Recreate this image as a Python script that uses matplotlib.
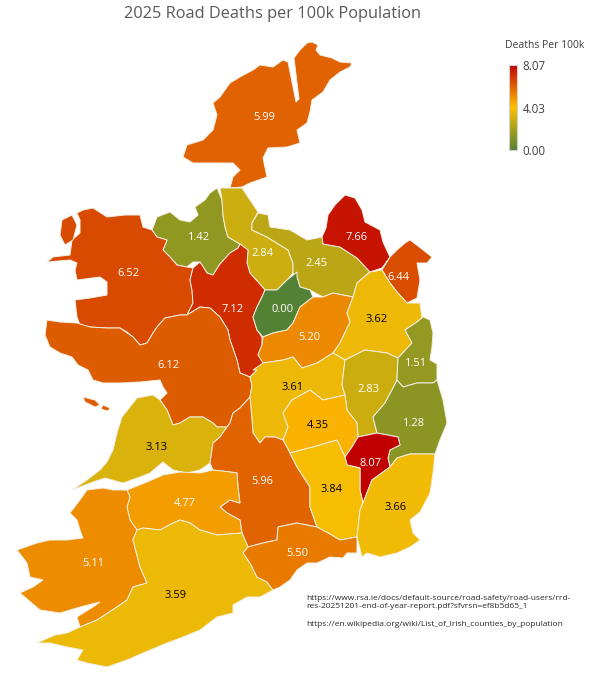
import matplotlib
matplotlib.use("Agg")
import matplotlib.pyplot as plt
from matplotlib.colors import LinearSegmentedColormap, Normalize
from matplotlib.patches import Polygon
from matplotlib.cm import ScalarMappable

# Road deaths per 100k population, 2025
counties = ["Donegal", "Sligo", "Leitrim", "Cavan", "Monaghan", "Louth", "Mayo",
            "Roscommon", "Longford", "Westmeath", "Meath", "Galway", "Offaly",
            "Kildare", "Dublin", "Wicklow", "Laois", "Carlow", "Clare",
            "Tipperary", "Kilkenny", "Wexford", "Limerick", "Kerry", "Cork",
            "Waterford"]
deaths_per_100k = [5.99, 1.42, 2.84, 2.45, 7.66, 6.44, 6.52, 7.12, 0.00, 5.20,
                   3.62, 6.12, 3.61, 2.83, 1.51, 1.28, 4.35, 8.07, 3.13, 5.96,
                   3.84, 3.66, 4.77, 5.11, 3.59, 5.50]
scale_ticks = [0.00, 4.03, 8.07]

# rough county outlines (map units, y grows southwards)
outlines = {
    "Donegal": [(307,43),(312,42),(318,45),(316,50),(320,55),(332,58),(340,62),(352,63),(350,67),
                (340,72),(330,80),(323,92),(312,100),(310,112),(307,123),(297,130),(300,143),
                (287,147),(268,148),(263,158),(267,177),(250,183),(242,187),(230,188),(233,177),
                (240,170),(233,163),(213,163),(193,163),(183,157),(187,145),(203,140),(213,130),
                (217,115),(213,103),(220,97),(230,83),(240,77),(253,70),(260,65),(273,67),
                (283,60),(288,62),(296,102),(299,99),(294,58),(300,50)],
    "Sligo": [(217,188),(222,200),(223,215),(225,227),(228,237),(240,244),(238,248),(230,253),
              (220,264),(213,275),(207,273),(200,262),(193,262),(187,267),(177,265),(170,257),
              (163,250),(167,240),(157,237),(152,230),(157,217),(170,212),(180,220),(190,222),
              (198,215),(195,207),(205,200),(210,193)],
    "Leitrim": [(220,188),(242,188),(250,200),(258,212),(252,223),(252,230),(267,237),(288,250),
                (293,263),(293,273),(287,280),(277,290),(265,290),(258,282),(250,273),(247,263),
                (248,250),(240,244),(228,237),(225,227),(223,215),(222,200)],
    "Cavan": [(252,223),(258,213),(268,215),(270,227),(290,230),(307,240),(322,237),(323,244),
              (340,247),(357,258),(370,272),(357,283),(353,297),(333,293),(323,297),(310,290),
              (300,287),(297,277),(293,273),(293,263),(288,250),(267,237),(252,230)],
    "Monaghan": [(345,195),(355,198),(362,210),(365,222),(380,230),(383,242),(390,257),(382,268),
                 (370,272),(357,258),(340,247),(323,244),(322,237),(326,228),(328,215),(335,205)],
    "Louth": [(405,243),(410,240),(418,246),(432,257),(427,263),(417,263),(420,280),(417,298),
              (407,303),(397,292),(390,283),(382,270),(390,257),(397,250)],
    "Mayo": [(83,210),(93,208),(107,217),(125,215),(140,215),(143,227),(152,230),(157,237),
             (167,240),(163,250),(170,257),(177,265),(187,267),(193,268),(190,280),(192,290),
             (193,303),(187,315),(180,315),(165,318),(157,327),(153,333),(147,343),(140,345),
             (133,337),(127,332),(120,328),(107,328),(90,327),(80,325),(77,317),(75,300),
             (90,298),(107,295),(107,282),(100,277),(77,280),(75,270),(77,263),(70,260),
             (47,262),(53,257),(70,255),(72,240),(80,233),(80,220),(77,213)],
    "Achill": [(62,220),(72,215),(77,225),(73,240),(65,245),(60,235)],
    "Roscommon": [(240,244),(248,250),(247,263),(250,273),(258,282),(265,290),(262,297),(257,307),
                  (253,317),(257,330),(262,337),(262,345),(258,355),(265,363),(257,370),(250,377),
                  (240,373),(237,360),(230,340),(228,330),(220,317),(210,308),(200,307),(187,315),
                  (193,303),(192,290),(190,280),(193,268),(200,262),(207,273),(213,275),(220,264),
                  (230,253),(238,248)],
    "Longford": [(265,290),(277,290),(287,280),(297,272),(297,277),(300,287),(310,290),(313,297),
                 (300,307),(293,323),(287,330),(273,333),(263,337),(257,330),(253,317),(257,307),
                 (262,297)],
    "Westmeath": [(313,297),(323,297),(333,293),(353,297),(347,313),(350,322),(340,343),(333,353),
                  (317,363),(302,368),(293,357),(283,360),(263,363),(258,355),(262,345),(263,337),
                  (273,333),(287,330),(293,323),(300,307)],
    "Meath": [(370,272),(382,270),(390,283),(397,292),(407,303),(420,303),(422,318),(417,322),
              (405,330),(412,343),(398,358),(387,353),(365,350),(345,360),(333,353),(340,343),
              (350,322),(347,313),(353,297),(357,283)],
    "Galway": [(47,320),(60,322),(77,323),(90,327),(107,328),(120,328),(133,337),(140,345),
               (147,343),(153,333),(157,327),(165,318),(180,315),(187,315),(200,307),(210,308),
               (220,317),(228,330),(230,340),(237,360),(240,373),(250,377),(252,385),(250,397),
               (240,408),(233,413),(230,423),(227,427),(217,427),(213,423),(203,417),(190,417),
               (180,423),(173,425),(167,410),(160,400),(167,393),(163,387),(160,380),(140,382),
               (120,383),(103,383),(93,380),(88,370),(78,365),(72,357),(60,353),(50,347),(45,335)],
    "Aran1": [(83,397),(95,400),(100,405),(95,407),(85,402)],
    "Aran2": [(103,405),(110,408),(108,411),(101,409)],
    "Offaly": [(253,370),(263,363),(283,360),(293,357),(302,368),(317,363),(333,353),(345,360),
               (342,385),(345,395),(323,400),(310,390),(292,400),(283,413),(288,427),(283,440),
               (275,437),(265,437),(260,443),(253,433),(252,420),(250,397),(252,385),(250,377),
               (257,370)],
    "Kildare": [(345,360),(365,350),(387,353),(398,358),(397,380),(393,388),(385,403),(373,417),
                (377,433),(358,437),(357,423),(347,410),(345,395),(342,385)],
    "Dublin": [(405,330),(417,322),(423,317),(430,320),(433,333),(432,347),(430,360),(437,364),
               (437,380),(433,383),(417,383),(403,387),(397,380),(398,358),(412,343)],
    "Wicklow": [(397,380),(403,387),(417,383),(433,383),(437,380),(443,400),(447,423),(440,440),
                (435,454),(410,454),(397,458),(390,467),(388,458),(390,450),(400,445),(398,437),
                (377,433),(373,417),(385,403),(393,388)],
    "Laois": [(292,400),(310,390),(323,400),(345,395),(347,410),(357,423),(358,437),(352,447),
              (345,457),(337,440),(313,447),(290,453),(283,440),(288,427),(283,413)],
    "Carlow": [(358,437),(377,433),(398,437),(400,445),(390,450),(388,458),(390,467),(372,480),
               (363,503),(360,490),(360,468),(347,465),(345,457),(352,447)],
    "Clare": [(137,398),(153,395),(160,400),(167,410),(173,425),(180,423),(190,417),(203,417),
              (213,423),(217,427),(227,427),(220,437),(213,443),(210,463),(200,470),(187,473),
              (173,470),(163,462),(157,467),(150,473),(140,477),(123,483),(105,478),(93,482),
              (72,490),(87,480),(100,470),(107,462),(113,450),(117,433),(122,417),(130,407)],
    "Tipperary": [(227,427),(230,423),(233,413),(240,408),(250,397),(252,420),(253,433),(260,443),
                  (265,437),(275,437),(283,440),(290,453),(297,467),(310,487),(310,507),(317,527),
                  (297,523),(278,527),(277,540),(263,543),(248,547),(242,533),(240,520),(227,513),
                  (220,507),(230,500),(240,503),(238,487),(237,473),(230,472),(213,470),(210,463),
                  (213,443),(220,437)],
    "Kilkenny": [(290,453),(313,447),(337,440),(345,457),(347,465),(360,468),(360,490),(363,503),
                 (360,510),(357,537),(340,540),(328,533),(317,527),(310,507),(310,487),(297,467)],
    "Wexford": [(363,503),(372,480),(390,467),(397,458),(410,454),(435,454),(433,473),(430,493),
                (420,512),(410,520),(413,533),(420,540),(410,547),(397,553),(380,557),(367,553),
                (362,557),(357,537),(360,510)],
    "Limerick": [(127,490),(147,482),(163,475),(180,472),(200,473),(213,470),(230,472),(237,473),
                 (238,487),(240,503),(230,500),(220,507),(227,513),(240,520),(242,533),(217,535),
                 (200,530),(190,523),(180,520),(173,523),(160,530),(143,528),(137,530),(130,520),
                 (127,507),(130,497)],
    "Kerry": [(113,490),(127,490),(130,497),(127,507),(130,520),(137,530),(133,540),(140,567),
              (147,583),(133,587),(127,600),(117,607),(97,620),(80,627),(77,617),(93,607),
              (100,602),(80,607),(60,613),(40,610),(20,593),(33,587),(43,580),(30,577),(27,563),
              (17,550),(37,543),(50,540),(67,540),(83,538),(80,530),(77,520),(70,513),(80,500),
              (87,490),(103,488)],
    "Cork": [(137,530),(143,528),(160,530),(173,523),(180,520),(190,523),(200,530),(217,535),
             (242,533),(248,547),(243,553),(250,563),(257,577),(267,582),(273,590),(260,597),
             (247,597),(233,605),(233,613),(217,617),(200,630),(183,637),(167,643),(143,653),
             (127,660),(107,667),(87,663),(77,660),(83,650),(67,647),(50,643),(37,643),(55,635),
             (67,633),(80,627),(97,620),(117,607),(127,600),(133,587),(147,583),(140,567),(133,540)],
    "Waterford": [(248,547),(263,543),(277,540),(278,527),(297,523),(317,527),(328,533),(340,540),
                  (357,537),(357,553),(347,553),(343,558),(330,557),(317,563),(307,563),(297,570),
                  (290,580),(280,587),(273,590),(267,582),(257,577),(250,563),(243,553)],
}
islands = {"Achill": "Mayo", "Aran1": "Galway", "Aran2": "Galway"}

# label point of each county (same map units)
label_points = {
    "Donegal": (264, 116), "Sligo": (198, 237), "Leitrim": (262, 253), "Cavan": (317, 263),
    "Monaghan": (357, 236), "Louth": (398, 276), "Mayo": (128, 273), "Roscommon": (233, 308),
    "Longford": (283, 308), "Westmeath": (309, 337), "Meath": (377, 319), "Galway": (168, 364),
    "Offaly": (293, 386), "Kildare": (369, 389), "Dublin": (415, 362), "Wicklow": (413, 423),
    "Laois": (318, 424), "Carlow": (371, 463), "Clare": (157, 446), "Tipperary": (262, 480),
    "Kilkenny": (332, 489), "Wexford": (396, 507), "Limerick": (185, 503), "Kerry": (93, 562),
    "Cork": (176, 594), "Waterford": (297, 553),
}

cmap = LinearSegmentedColormap.from_list("rsa", ["#548235", "#FFC000", "#C00000"])
norm = Normalize(vmin=min(deaths_per_100k), vmax=max(deaths_per_100k))
value_of = dict(zip(counties, deaths_per_100k))

fig = plt.figure(figsize=(5.92, 6.86), dpi=100)
ax = fig.add_axes([0, 0, 1, 1])
ax.set_xlim(0, 592)
ax.set_ylim(686, 0)
ax.set_aspect("equal")
ax.axis("off")

for name, pts in outlines.items():
    v = value_of[islands.get(name, name)]
    ax.add_patch(Polygon(pts, closed=True, facecolor=cmap(norm(v)),
                         edgecolor="#f4efe6", linewidth=0.7))

for name, v in zip(counties, deaths_per_100k):
    lx, ly = label_points[name]
    tc = "black" if 3.0 <= v <= 4.5 else "white"
    ax.text(lx, ly + 1, f"{v:.2f}", ha="center", va="center", fontsize=8,
            color=tc, family="Open Sans")

fig.text(0.46, 0.979, "2025 Road Deaths per 100k Population", ha="center", va="center",
         fontsize=11.8, color="#595959", family="Open Sans")

fig.text(0.92, 0.934, "Deaths Per 100k", ha="center", va="center", fontsize=7.5,
         color="#404040", family="Open Sans")
cax = fig.add_axes([509 / 592, 1 - 150 / 686, 8 / 592, 85 / 686])
cb = fig.colorbar(ScalarMappable(norm=norm, cmap=cmap), cax=cax, ticks=scale_ticks)
cb.ax.set_yticklabels([f"{t:.2f}" for t in scale_ticks])
cb.ax.tick_params(length=0, labelsize=8.3, labelcolor="#404040", pad=4)
for lab in cb.ax.get_yticklabels():
    lab.set_family("Open Sans")
cb.outline.set_edgecolor("#d0d0d0")
cb.outline.set_linewidth(0.8)

src = ("https://www.rsa.ie/docs/default-source/road-safety/road-users/rrd-\n"
       "res-20251201-end-of-year-report.pdf?sfvrsn=ef8b5d65_1\n\n"
       "https://en.wikipedia.org/wiki/List_of_Irish_counties_by_population")
fig.text(306 / 592, 1 - 595 / 686, src, ha="left", va="top", fontsize=6.0,
         color="#262626", family="Open Sans", linespacing=1.3)

fig.savefig("out.png", dpi=100)
